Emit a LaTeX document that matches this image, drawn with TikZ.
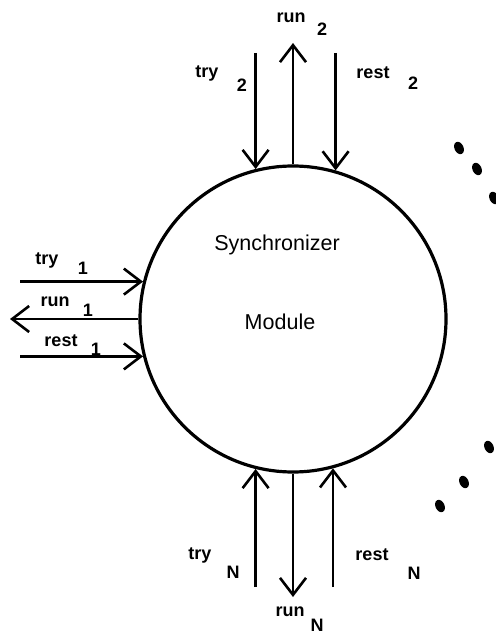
\documentclass[tikz,border=0pt]{standalone}
\usepackage{fontspec}
\setmainfont{Liberation Sans}
\usetikzlibrary{arrows.meta,calc}
\tikzset{%
  moduleCircle/.style={%
    circle,
    draw,
    line width=3.2pt,
    minimum size=306pt,
    inner sep=0pt
  },
  sigArrow/.style={%
    line width=2.4pt,
    -{Straight Barb[length=17pt,width=26pt,line width=2.6pt]}
  },
  sigLabel/.style={%
    font=\fontsize{18}{18}\selectfont\bfseries,
    inner sep=0pt
  },
  moduleText/.style={%
    font=\fontsize{21.5}{24}\selectfont,
    inner sep=0pt
  }
}

\begin{document}
\begin{tikzpicture}[x=1pt,y=-1pt]
  \useasboundingbox (0,0) rectangle (495,636);

  \node[moduleCircle] (mod) at (293,319) {};
  \node[moduleText] (syncText) at (277,245) {Synchronizer};
  \node[moduleText] (modText) at (280,322) {Module};

  % free ends of the signals
  \coordinate (try2) at (mod.104 |- 0,53);
  \coordinate (run2) at (mod.north |- 0,43);
  \coordinate (rest2) at (mod.74 |- 0,53);
  \coordinate (try1) at (20,0 |- mod.166);
  \coordinate (run1) at (10,0 |- mod.west);
  \coordinate (rest1) at (20,0 |- mod.194);
  \coordinate (tryN) at (mod.256 |- 0,587);
  \coordinate (runN) at (mod.south |- 0,597);
  \coordinate (restN) at (mod.285 |- 0,587);

  \draw[sigArrow] (try2) -- (mod.104);
  \draw[sigArrow] (mod.north) -- (run2);
  \draw[sigArrow] (rest2) -- (mod.74);
  \draw[sigArrow] (try1) -- (mod.166);
  \draw[sigArrow] (mod.west) -- (run1);
  \draw[sigArrow] (rest1) -- (mod.194);
  \draw[sigArrow] (tryN) -- (mod.256);
  \draw[sigArrow] (mod.south) -- (runN);
  \draw[sigArrow] (restN) -- (mod.285);

  % labels
  \node[sigLabel] (try2L) at (207,73) {try};
  \node[sigLabel] (try2i) at (242,85) {2};
  \node[sigLabel] (run2L) at (291,18) {run};
  \node[sigLabel] (run2i) at (322,29) {2};
  \node[sigLabel] (rest2L) at (373,73) {rest};
  \node[sigLabel] (rest2i) at (413,83) {2};
  \node[sigLabel] (try1L) at (47,260) {try};
  \node[sigLabel] (try1i) at (83,268) {1};
  \node[sigLabel] (run1L) at (55,302) {run};
  \node[sigLabel] (run1i) at (88,310) {1};
  \node[sigLabel] (rest1L) at (61,341) {rest};
  \node[sigLabel] (rest1i) at (96,349) {1};
  \node[sigLabel] (tryNL) at (200,555) {try};
  \node[sigLabel] (tryNi) at (233,572) {N};
  \node[sigLabel] (runNL) at (290,612) {run};
  \node[sigLabel] (runNi) at (317,625) {N};
  \node[sigLabel] (restNL) at (372,555) {rest};
  \node[sigLabel] (restNi) at (414,573) {N};

  % dots for the other modules
  \foreach \px/\py in {459/148,477/169,494/198,489/447,464/482,440/506}
    \fill[rotate around={25:(\px,\py)}] (\px,\py) ellipse [x radius=4.5, y radius=6.5];
\end{tikzpicture}
\end{document}
